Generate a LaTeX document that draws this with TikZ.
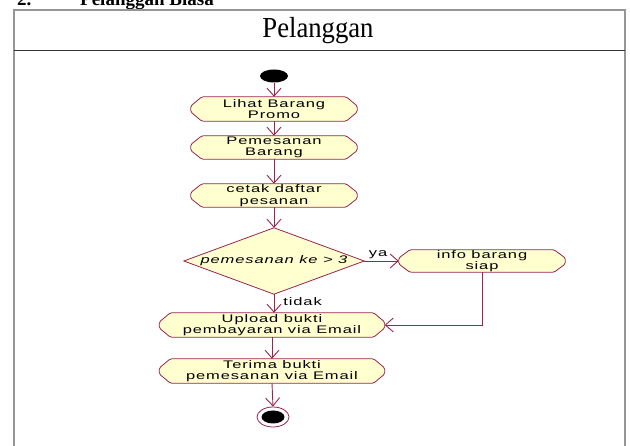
\documentclass[tikz,border=0pt]{standalone}
\usepackage{fontspec}
\setmainfont{Liberation Serif}
\newfontfamily\actfont[FakeStretch=1.5,LetterSpace=8]{Liberation Sans}
\newfontfamily\lanefont[FakeStretch=0.92]{Liberation Serif}
\usetikzlibrary{arrows.meta,shapes.geometric,backgrounds}

\definecolor{linecol}{RGB}{155,35,80}
\definecolor{actfill}{RGB}{255,255,208}
\definecolor{framecol}{RGB}{150,150,150}

\tikzset{
  flow/.style={draw=linecol, line width=0.9pt,
    -{Straight Barb[length=8pt,width=14pt,line width=0.9pt]}},
  actbox/.style={minimum height=24pt, inner sep=0pt, align=center,
    font=\actfont\fontsize{11}{11.5}\selectfont},
  octa/.style={draw=linecol, fill=actfill, line width=0.8pt, rounded corners=1.5pt},
  guard/.style={inner sep=1pt, font=\actfont\fontsize{11}{11}\selectfont},
}

\begin{document}
\begin{tikzpicture}[x=1pt, y=-1pt]
\useasboundingbox (0,0) rectangle (630,446);

% section heading, cut by the page edge
\node[font=\bfseries\fontsize{19}{22}\selectfont, anchor=base west, inner sep=0] (hnum) at (17,6) {2.};
\node[font=\bfseries\fontsize{19}{22}\selectfont, anchor=base west, inner sep=0] (htitle) at (80,6) {Pelanggan Biasa};

% swimlane frame
\draw[framecol, line width=1.4pt] (14,452) -- (14,10) -- (625,10) -- (625,452);
\draw[black!80, line width=1pt] (14,51) -- (625,51);
\node[font=\lanefont\fontsize{29}{32}\selectfont, anchor=base, inner sep=0] (lane) at (318,38) {Pelanggan};

% initial state
\node[ellipse, fill=black, minimum width=28pt, minimum height=13pt, inner sep=0pt] (start) at (274,76) {};

% activities
\node[actbox, minimum width=166pt] (lihat) at (274,109) {Lihat Barang\\Promo};
\node[actbox, minimum width=166pt, minimum height=23pt] (pesan) at (274,147.5) {Pemesanan\\Barang};
\node[actbox, minimum width=166pt, minimum height=23pt] (cetak) at (274,195.5) {cetak daftar\\pesanan};
\node[actbox, minimum width=180pt, minimum height=66pt,
      font=\actfont\itshape\fontsize{11}{11}\selectfont] (dec) at (274,261) {pemesanan ke > 3};
\node[actbox, minimum width=166pt, minimum height=22pt] (info) at (482,261) {info barang\\siap};
\node[actbox, minimum width=225pt] (upload) at (272,325) {Upload bukti\\pembayaran via Email};
\node[actbox, minimum width=225pt] (terima) at (272,371) {Terima bukti\\pemesanan via Email};

% final state
\node[ellipse, draw=linecol, line width=0.8pt, fill=white, minimum width=32pt, minimum height=20pt, inner sep=0pt] (end) at (273,417) {};
\node[ellipse, fill=black, minimum width=23pt, minimum height=13pt, inner sep=0pt] (endin) at (end) {};

% activity outlines and decision diamond behind the text
\begin{scope}[on background layer]
  \foreach \n in {lihat,pesan,cetak,info,upload,terima}
    \draw[octa] ([xshift=11pt]\n.north west) -- ([xshift=-11pt]\n.north east)
      -- ([yshift=3pt]\n.east) -- ([yshift=-3pt]\n.east)
      -- ([xshift=-11pt]\n.south east) -- ([xshift=11pt]\n.south west)
      -- ([yshift=-3pt]\n.west) -- ([yshift=3pt]\n.west) -- cycle;
  \draw[draw=linecol, fill=actfill, line width=0.8pt]
    (dec.north) -- (dec.east) -- (dec.south) -- (dec.west) -- cycle;
\end{scope}

% transitions
\draw[flow] (start.south) -- (start.south |- lihat.north);
\draw[flow] (lihat.south) -- (pesan.north);
\draw[flow] (pesan.south) -- (cetak.north);
\draw[flow] (cetak.south) -- (dec.north);
\draw[flow] (dec.east) -- node[guard, above, pos=0.4, yshift=1pt] (ya) {ya} (info.west);
\draw[flow] (dec.south) -- node[guard, right, pos=0.4, xshift=8pt] (tidak) {tidak} (dec.south |- upload.north);
\draw[flow] (info.south) |- (upload.east);
\draw[flow] (upload.south) -- (terima.north);
\draw[flow] (terima.south) -- (end.north);
\end{tikzpicture}
\end{document}
